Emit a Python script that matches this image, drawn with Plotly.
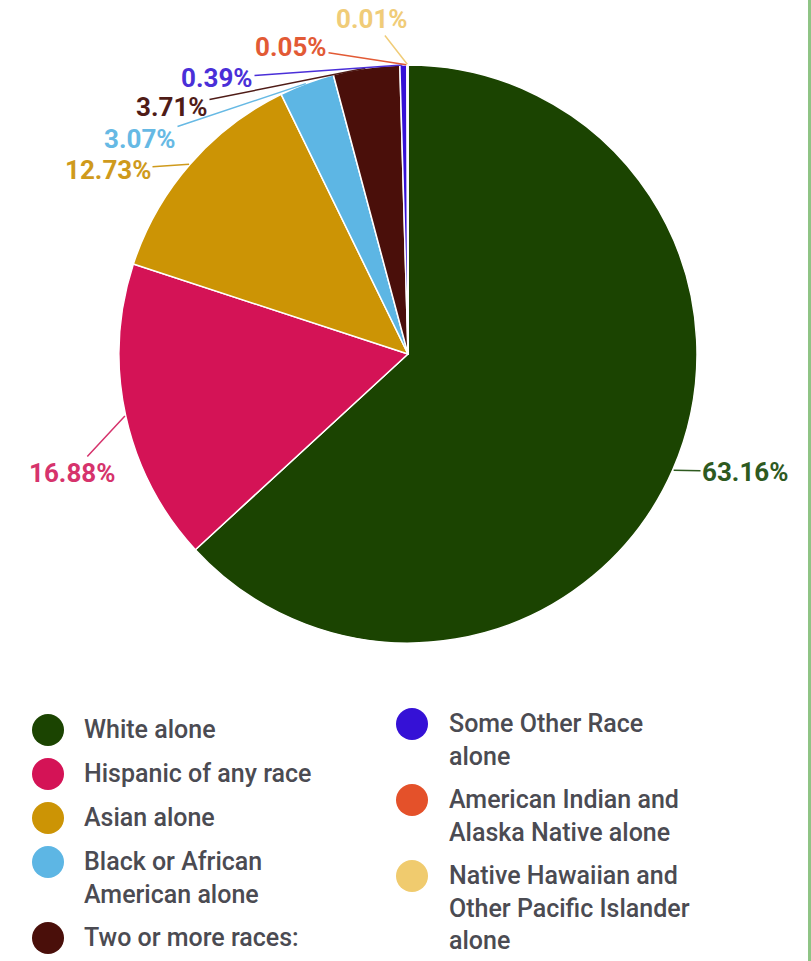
import math
import plotly.graph_objects as go

# ---- data ----
categories = [
    "White alone",
    "Hispanic of any race",
    "Asian alone",
    "Black or African American alone",
    "Two or more races:",
    "Some Other Race alone",
    "American Indian and Alaska Native alone",
    "Native Hawaiian and Other Pacific Islander alone",
]
legend_labels = [
    "White alone",
    "Hispanic of any race",
    "Asian alone",
    "Black or African<br>American alone",
    "Two or more races:",
    "Some Other Race<br>alone",
    "American Indian and<br>Alaska Native alone",
    "Native Hawaiian and<br>Other Pacific Islander<br>alone",
]
values = [63.16, 16.88, 12.73, 3.07, 3.71, 0.39, 0.05, 0.01]

# ---- styling / layout ----
slice_colors = ["#1b4401", "#d41356", "#cc9405", "#5db6e4", "#4a0f0a", "#3511d6", "#e4512a", "#f0cb6e"]
text_colors = ["#2e5a1f", "#d6336c", "#cf9a1c", "#66b9e4", "#4f1c17", "#4a2fd8", "#e25a35", "#f0cc78"]
# outside label centres (screen px) for each slice label
label_pos = [(745, 472), (72, 473), (108, 170), (140, 139), (172, 107), (217, 78), (291, 47), (372, 19)]

W, H = 811, 961
FONT = "Roboto, 'Open Sans', sans-serif"

fig = go.Figure()

# pie (pixel coordinates of centre / radius)
cx, cy, r = 408, 354, 289
fig.add_trace(go.Pie(
    labels=categories,
    values=values,
    sort=False,
    direction="clockwise",
    rotation=0,
    marker=dict(colors=slice_colors, line=dict(color="white", width=1.5)),
    textinfo="none",
    automargin=False,
    showlegend=False,
    hoverinfo="label+value",
    domain=dict(x=[(cx - r) / W, (cx + r) / W],
                y=[1 - (cy + r) / H, 1 - (cy - r) / H]),
))

annotations = []
# outside value labels with leader lines to slice mid-angles
total = sum(values)
cum = 0.0
for v, tc, (lx, ly) in zip(values, text_colors, label_pos):
    mid = (cum + v / 2) / total * 2 * math.pi
    cum += v
    hx = cx + r * math.sin(mid)
    hy = cy - r * math.cos(mid)
    annotations.append(dict(
        x=hx, y=hy, xref="x", yref="y",
        ax=lx, ay=ly, axref="x", ayref="y",
        text=f"{v:.2f}%", showarrow=True, arrowhead=0, arrowwidth=1.5,
        arrowcolor=tc, standoff=1,
        font=dict(family=FONT, size=26, color=tc, weight=700),
    ))

# custom legend (two columns)
col_split = 5
col_x = [48, 412]
col_text_x = [82, 447]
col_start = [730, 724]
step_single, step_line = 44, 32

mx, my = [], []
for i, lab in enumerate(legend_labels):
    col = 0 if i < col_split else 1
    if i == 0 or i == col_split:
        y = col_start[col]
    nlines = lab.count("<br>") + 1
    mx.append(col_x[col])
    my.append(y)
    annotations.append(dict(
        x=col_text_x[col], y=y - 17, xref="x", yref="y",
        text=lab, showarrow=False, xanchor="left", yanchor="top", align="left",
        font=dict(family=FONT, size=25, color="#4b4b52", weight=500),
    ))
    y += step_single + step_line * (nlines - 1)

fig.add_trace(go.Scatter(
    x=mx, y=my, mode="markers", cliponaxis=False,
    marker=dict(size=32, color=slice_colors, line=dict(width=0)),
    showlegend=False, hoverinfo="skip",
))

fig.update_layout(
    width=W, height=H,
    margin=dict(l=0, r=0, t=0, b=0, pad=0, autoexpand=False),
    paper_bgcolor="white", plot_bgcolor="rgba(0,0,0,0)",
    xaxis=dict(range=[0, W], visible=False, fixedrange=True, domain=[0, 1]),
    yaxis=dict(range=[H, 0], visible=False, fixedrange=True, domain=[0, 1]),
    annotations=annotations,
    shapes=[dict(type="line", xref="paper", yref="paper", x0=(W - 1.5) / W, x1=(W - 1.5) / W,
                 y0=0, y1=1, line=dict(color="#8fc485", width=3))],
    showlegend=False,
)

fig.write_html(
    "out.html",
    config={"displayModeBar": False},
    post_script="document.body.style.margin='0';"
                "document.documentElement.style.overflow='hidden';"
                "document.body.style.overflow='hidden';",
)
